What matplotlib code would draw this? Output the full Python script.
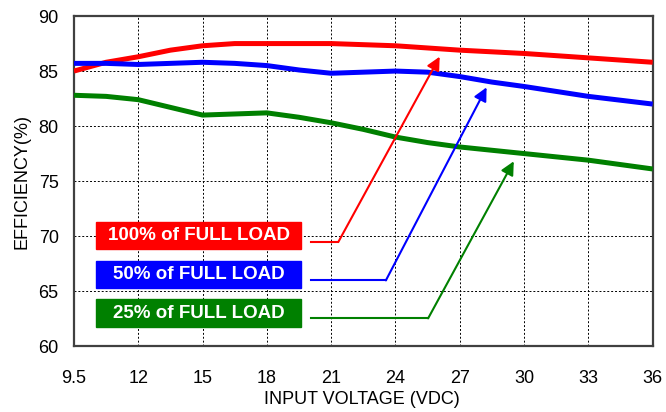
import matplotlib.pyplot as plt
import numpy as np
from matplotlib.patches import Rectangle

plt.rcParams['font.family'] = ['Liberation Sans', 'DejaVu Sans']

# x tick voltages (drawn evenly spaced on the original chart)
volt_ticks = [9.5, 12, 15, 18, 21, 24, 27, 30, 33, 36]

v_100 = [9.5, 10.75, 12, 13.5, 15, 16.5, 18, 21, 24, 27, 30, 33, 36]
eff_100 = [85.0, 85.8, 86.3, 86.9, 87.3, 87.5, 87.5, 87.5, 87.3, 86.9, 86.6, 86.2, 85.8]

v_50 = [9.5, 10.75, 12, 13.5, 15, 16.5, 18, 19.5, 21, 22.5, 24, 25.5, 27, 28.5, 30, 33, 36]
eff_50 = [85.7, 85.7, 85.6, 85.7, 85.8, 85.7, 85.5, 85.1, 84.8, 84.9, 85.0, 84.9, 84.5, 84.0, 83.6, 82.7, 82.0]

v_25 = [9.5, 10.75, 12, 13.5, 15, 16.5, 18, 19.5, 21, 22.5, 24, 25.5, 27, 30, 33, 36]
eff_25 = [82.8, 82.7, 82.4, 81.7, 81.0, 81.1, 81.2, 80.8, 80.3, 79.7, 79.0, 78.5, 78.1, 77.5, 76.9, 76.1]

labels = ['100% of FULL LOAD', '50% of FULL LOAD', '25% of FULL LOAD']
colors = ['#ff0000', '#0000ff', '#008000']

tick_pos = np.arange(len(volt_ticks))


def fwd(v):
    return np.interp(v, volt_ticks, tick_pos)


def inv(p):
    return np.interp(p, tick_pos, volt_ticks)


fig = plt.figure(figsize=(6.66, 4.12), dpi=100)
ax = fig.add_axes([0.111, 0.160, 0.869, 0.801])
ax.set_xscale('function', functions=(fwd, inv))

for v, e, c in zip([v_100, v_50, v_25], [eff_100, eff_50, eff_25], colors):
    ax.plot(v, e, color=c, lw=3.6, solid_capstyle='butt', zorder=3)

ax.set_xlim(9.5, 36)
ax.set_ylim(60, 90)
ax.set_xticks(volt_ticks)
ax.set_xticklabels([f'{t:g}' for t in volt_ticks])
ax.set_yticks(range(60, 91, 5))
ax.tick_params(length=0, labelsize=13)
ax.tick_params(axis='x', pad=17)
ax.tick_params(axis='y', pad=11)
ax.grid(True, color='black', linestyle=(0, (2, 2)), lw=0.7)

for s in ax.spines.values():
    s.set_color('#404040')
    s.set_linewidth(1.6)

ax.set_xlabel('INPUT VOLTAGE (VDC)', fontsize=13)
ax.set_ylabel('EFFICIENCY(%)', fontsize=13)
ax.xaxis.set_label_coords(0.497, -0.136)
ax.yaxis.set_label_coords(-0.075, 0.5)

# label boxes and leader arrows (axes fraction)
box_y = [0.293, 0.175, 0.058]
start_x = 0.410
lead_y = [0.316, 0.199, 0.084]
corner_x = [0.457, 0.539, 0.612]
tips = [(0.632, 0.877), (0.713, 0.784), (0.760, 0.560)]

for lab, c, by, ly, cx, tip in zip(labels, colors, box_y, lead_y, corner_x, tips):
    ax.add_patch(Rectangle((0.039, by), 0.353, 0.084, transform=ax.transAxes,
                           color=c, zorder=4))
    ax.text(0.2155, by + 0.042, lab, transform=ax.transAxes, ha='center',
            va='center', color='white', fontweight='bold', fontsize=13.5, zorder=5)
    ax.plot([start_x, cx], [ly, ly], transform=ax.transAxes, color=c, lw=1.5, zorder=4)
    ax.annotate('', xy=tip, xytext=(cx, ly), xycoords='axes fraction',
                arrowprops=dict(arrowstyle='-|>', color=c, lw=1.5,
                                mutation_scale=20, shrinkA=0, shrinkB=0),
                zorder=4)

plt.savefig('out.png', dpi=100)
